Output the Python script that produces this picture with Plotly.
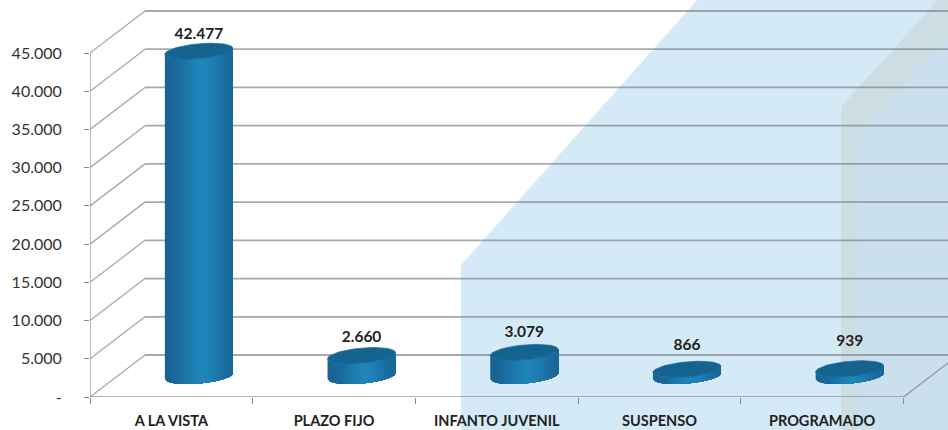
import numpy as np
import plotly.graph_objects as go

categories = ["A LA VISTA", "PLAZO FIJO", "INFANTO JUVENIL", "SUSPENSO", "PROGRAMADO"]
values = [42477, 2660, 3079, 866, 939]
value_labels = ["42.477", "2.660", "3.079", "866", "939"]
y_ticks = [0, 5000, 10000, 15000, 20000, 25000, 30000, 35000, 40000, 45000]
y_tick_labels = ["-", "5.000", "10.000", "15.000", "20.000", "25.000", "30.000", "35.000", "40.000", "45.000"]

W, H = 948, 430
ML, MB = 90, 33
CAT_PX = 162.7
Y_PX = 344 / 45000
X_RANGE = [-0.5, -0.5 + (W - ML) / CAT_PX]
Y_RANGE = [0, (H - MB) / Y_PX]
DEPTH_X = 55 / CAT_PX
DEPTH_Y = 42 / Y_PX
RX = 34 / CAT_PX
RY = 7.5 / Y_PX
TILT = 3 / Y_PX
LABEL_LIFT = [16, 18, 19, 23, 27]
GRID = "rgba(115,120,122,0.62)"


def px(x):
    return (x - ML) / (W - ML)


def py(y):
    return (H - MB - y) / (H - MB)


def poly(points, fill):
    path = "M " + " L ".join(f"{px(a):.4f},{py(b):.4f}" for a, b in points) + " Z"
    return dict(type="path", xref="paper", yref="paper", path=path, fillcolor=fill,
                line_width=0, layer="below")


shapes = [
    poly([(461, 430), (461, 265), (697, 0), (948, 0), (948, 430)], "#d4ebf7"),
    poly([(841, 430), (841, 107), (938, 0), (948, 0), (948, 38), (859, 135), (859, 430)], "#cddde4"),
    poly([(859, 430), (859, 135), (948, 38), (948, 430)], "#cae0ee"),
]


def seg(x0, y0, x1, y1, color=GRID, width=1.8):
    return dict(type="line", xref="x", yref="y", x0=x0, y0=y0, x1=x1, y1=y1,
                line=dict(color=color, width=width), layer="below")


left = X_RANGE[0]
right = len(categories) - 0.5
for t in y_ticks:
    shapes.append(seg(left + DEPTH_X, t + DEPTH_Y, X_RANGE[1], t + DEPTH_Y))
    shapes.append(seg(left, t, left + DEPTH_X, t + DEPTH_Y, "rgba(130,130,130,0.7)", 1.3))
shapes.append(seg(left, 0, right, 0, "rgba(120,124,126,0.75)", 1.6))
shapes.append(seg(left, 0, left, y_ticks[-1], "rgba(130,130,130,0.75)", 1.4))
shapes.append(seg(right, 0, right + DEPTH_X, DEPTH_Y, "rgba(120,124,126,0.75)", 1.3))

fig = go.Figure()

centers = [i + DEPTH_X / 2 for i in range(len(categories))]
base = DEPTH_Y / 2
edge = np.array([24, 98, 146])
mid = np.array([31, 132, 186])
N = 34
bounds = np.linspace(-1, 1, N + 1)


def arc(u):
    # lower edge of the tilted ellipse at normalised horizontal position u
    return -RY * np.sqrt(np.clip(1 - u * u, 0, 1)) + TILT * u


for k in range(N):
    u0 = bounds[k]
    um = (bounds[k] + bounds[k + 1]) / 2
    w = np.exp(-((um - 0.1) / 0.62) ** 2)
    col = edge + (mid - edge) * w
    rgb = f"rgb({col[0]:.0f},{col[1]:.0f},{col[2]:.0f})"
    xs, ys = [], []
    us = np.linspace(u0, 1, 40)
    for c, v in zip(centers, values):
        xs += [c + RX * u for u in us] + [c + RX * u for u in us[::-1]] + [None]
        ys += [base + arc(u) for u in us] + [base + v + arc(u) for u in us[::-1]] + [None]
    fig.add_trace(go.Scatter(x=xs, y=ys, mode="none", fill="toself", fillcolor=rgb,
                             hoverinfo="skip", showlegend=False))

th = np.linspace(0, 2 * np.pi, 60)
xs, ys = [], []
for c, v in zip(centers, values):
    xs += list(c + RX * np.cos(th)) + [None]
    ys += list(base + v + RY * np.sin(th) + TILT * np.cos(th)) + [None]
fig.add_trace(go.Scatter(x=xs, y=ys, mode="lines", fill="toself", line=dict(width=0.8, color="#176fa3"),
                         fillcolor="#15648f", hoverinfo="skip", showlegend=False))

label_y = [base + v + lift / Y_PX for v, lift in zip(values, LABEL_LIFT)]
fig.add_trace(go.Scatter(x=centers, y=label_y, mode="text", text=value_labels, textposition="middle center",
                         textfont=dict(family="Lato", size=15.5, color="#222222", weight="bold"),
                         hoverinfo="skip", showlegend=False))

fig.update_layout(
    width=W, height=H, paper_bgcolor="white", plot_bgcolor="rgba(0,0,0,0)",
    margin=dict(l=ML, r=0, t=0, b=MB, autoexpand=False),
    showlegend=False, shapes=shapes,
    xaxis=dict(range=X_RANGE, tickmode="array", tickvals=list(range(len(categories))), ticktext=categories,
               showgrid=False, zeroline=False, showline=False, ticks="", ticklabelstandoff=13,
               tickfont=dict(family="Lato", size=14.5, color="#222222", weight="bold"),
               minor=dict(tickmode="array", tickvals=[i - 0.5 for i in range(len(categories) + 1)],
                          ticks="outside", ticklen=6, tickcolor="#8a8a8a", tickwidth=1.2, showgrid=False)),
    yaxis=dict(range=Y_RANGE, tickmode="array", tickvals=y_ticks, ticktext=y_tick_labels,
               showgrid=False, zeroline=False, showline=False, ticks="outside", ticklen=5,
               tickcolor="#8a8a8a", tickwidth=1.2, ticklabelstandoff=19,
               tickfont=dict(family="Lato", size=16, color="#333333")),
)

fig.write_html("out.html", config=dict(displayModeBar=False),
               post_script="document.documentElement.style.overflow='hidden';document.body.style.margin='0';")
